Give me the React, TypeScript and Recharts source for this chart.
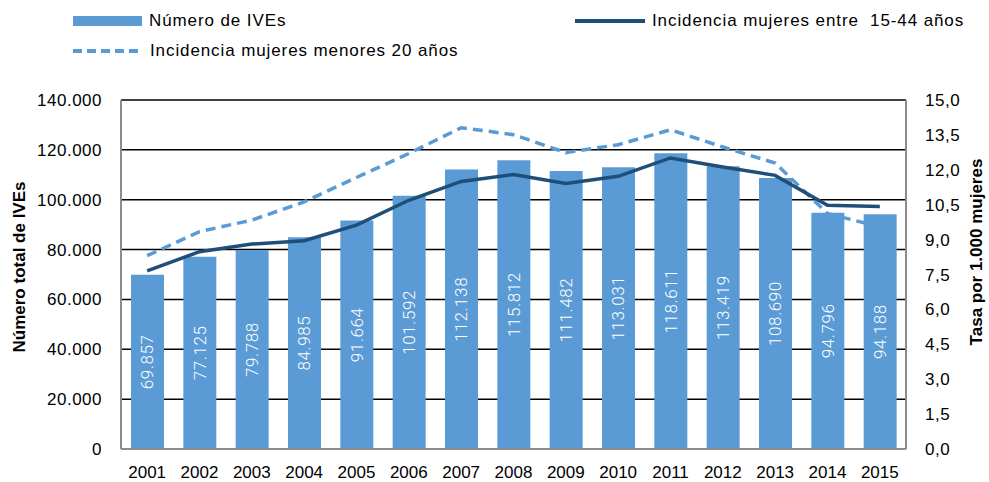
import { Bar, CartesianGrid, ComposedChart, LabelList, Line, XAxis, YAxis } from "recharts";

const years = ["2001", "2002", "2003", "2004", "2005", "2006", "2007", "2008", "2009", "2010", "2011", "2012", "2013", "2014", "2015"];
const numeroIVEs = [69857, 77125, 79788, 84985, 91664, 101592, 112138, 115812, 111482, 113031, 118611, 113419, 108690, 94796, 94188];
const incidencia1544 = [7.66, 8.48, 8.81, 8.95, 9.62, 10.69, 11.5, 11.8, 11.41, 11.72, 12.51, 12.12, 11.76, 10.48, 10.42];
const incidenciaMenores20 = [8.31, 9.34, 9.84, 10.62, 11.67, 12.7, 13.81, 13.51, 12.74, 13.08, 13.72, 12.98, 12.29, 10.12, 9.55];

const leftTicks = [0, 20000, 40000, 60000, 80000, 100000, 120000, 140000];
const rightTicks = [0, 1.5, 3, 4.5, 6, 7.5, 9, 10.5, 12, 13.5, 15];

const BAR_COLOR = "#5b9bd5";
const DARK_LINE = "#1f4e79";
const FONT = "'Liberation Sans', Arial, Helvetica, sans-serif";

const data = years.map((year, i) => ({
  year,
  ives: numeroIVEs[i],
  inc1544: incidencia1544[i],
  inc20: incidenciaMenores20[i],
}));

// 118611 -> "118.611"
const thousands = (v: number) => String(Math.round(v)).replace(/\B(?=(\d{3})+(?!\d))/g, ".");
const decimalComma = (v: number) => v.toFixed(1).replace(".", ",");

const BarValueLabel = (props: any) => {
  const { x, y, width, height, value } = props;
  const cx = Number(x) + Number(width) / 2;
  const cy = Number(y) + Number(height) / 2;
  return (
    <text
      x={cx}
      y={cy}
      transform={`rotate(-90 ${cx} ${cy})`}
      textAnchor="middle"
      dominantBaseline="central"
      fill="#ffffff"
      fontFamily="Roboto, 'Liberation Sans', Arial, sans-serif"
      fontWeight={300}
      fontSize={17}
      letterSpacing={0.6}
    >
      {thousands(Number(value))}
    </text>
  );
};

const legendItems = [
  { label: "Número de IVEs", kind: "bar", left: 73, top: 16 },
  { label: "Incidencia mujeres entre  15-44 años", kind: "solid", left: 575, top: 16 },
  { label: "Incidencia mujeres menores 20 años", kind: "dashed", left: 73, top: 46 },
];

const LegendSwatch = ({ kind }: { kind: string }) => {
  if (kind === "bar") return <svg width={69} height={10}><rect width={69} height={10} fill={BAR_COLOR} /></svg>;
  const dashed = kind === "dashed";
  return (
    <svg width={70} height={10}>
      <line
        x1={0}
        x2={70}
        y1={5}
        y2={5}
        stroke={dashed ? BAR_COLOR : DARK_LINE}
        strokeWidth={4}
        strokeDasharray={dashed ? "9 5" : undefined}
      />
    </svg>
  );
};

export default function App() {
  return (
    <div style={{ position: "relative", width: 989, height: 482, background: "#fff", fontFamily: FONT }}>
      <style>{"body{margin:0}"}</style>
      {legendItems.map((item) => (
        <div
          key={item.label}
          style={{
            position: "absolute",
            left: item.left,
            top: item.top - 6,
            height: 22,
            display: "flex",
            alignItems: "center",
            gap: 7,
            fontSize: 17,
            letterSpacing: 0.9,
            color: "#000",
            whiteSpace: "pre",
          }}
        >
          <LegendSwatch kind={item.kind} />
          <span>{item.label}</span>
        </div>
      ))}
      <ComposedChart width={989} height={482} data={data} margin={{ top: 100, right: 0, bottom: 0, left: 0 }} barSize={33}>
        <CartesianGrid yAxisId="left" vertical={false} stroke="#000" strokeWidth={1.5} />
        <XAxis
          dataKey="year"
          height={33}
          tickLine={false}
          tickSize={0}
          tickMargin={17}
          axisLine={{ stroke: "#8c8c8c", strokeWidth: 2 }}
          tick={{ fill: "#000", fontSize: 17, fontFamily: FONT }}
          interval={0}
        />
        <YAxis
          yAxisId="left"
          width={121}
          domain={[0, 140000]}
          ticks={leftTicks}
          tickFormatter={thousands}
          tickLine={false}
          tickSize={0}
          tickMargin={19}
          axisLine={{ stroke: "#8c8c8c", strokeWidth: 2 }}
          tick={{ fill: "#000", fontSize: 17, fontFamily: FONT, letterSpacing: 0.5 }}
          label={{
            content: () => (
              <text
                x={19}
                y={267}
                transform="rotate(-90 19 267)"
                textAnchor="middle"
                dominantBaseline="central"
                fontFamily={FONT}
                fontWeight={700}
                fontSize={17}
                fill="#000"
              >
                Número total de IVEs
              </text>
            ),
          }}
        />
        <YAxis
          yAxisId="right"
          orientation="right"
          width={83}
          domain={[0, 15]}
          ticks={rightTicks}
          tickFormatter={decimalComma}
          tickLine={false}
          tickSize={0}
          tickMargin={19}
          axisLine={{ stroke: "#8c8c8c", strokeWidth: 2 }}
          tick={{ fill: "#000", fontSize: 17, fontFamily: FONT, letterSpacing: 0.5 }}
          label={{
            content: () => (
              <text
                x={976}
                y={252}
                transform="rotate(-90 976 252)"
                textAnchor="middle"
                dominantBaseline="central"
                fontFamily={FONT}
                fontWeight={700}
                fontSize={17}
                fill="#000"
              >
                Tasa por 1.000 mujeres
              </text>
            ),
          }}
        />
        <Bar yAxisId="left" dataKey="ives" fill={BAR_COLOR} isAnimationActive={false}>
          <LabelList dataKey="ives" content={BarValueLabel} />
        </Bar>
        <Line
          yAxisId="right"
          type="linear"
          dataKey="inc20"
          stroke={BAR_COLOR}
          strokeWidth={3.5}
          strokeDasharray="10 6"
          dot={false}
          activeDot={false}
          isAnimationActive={false}
        />
        <Line
          yAxisId="right"
          type="linear"
          dataKey="inc1544"
          stroke={DARK_LINE}
          strokeWidth={3.5}
          dot={false}
          activeDot={false}
          isAnimationActive={false}
        />
      </ComposedChart>
    </div>
  );
}
